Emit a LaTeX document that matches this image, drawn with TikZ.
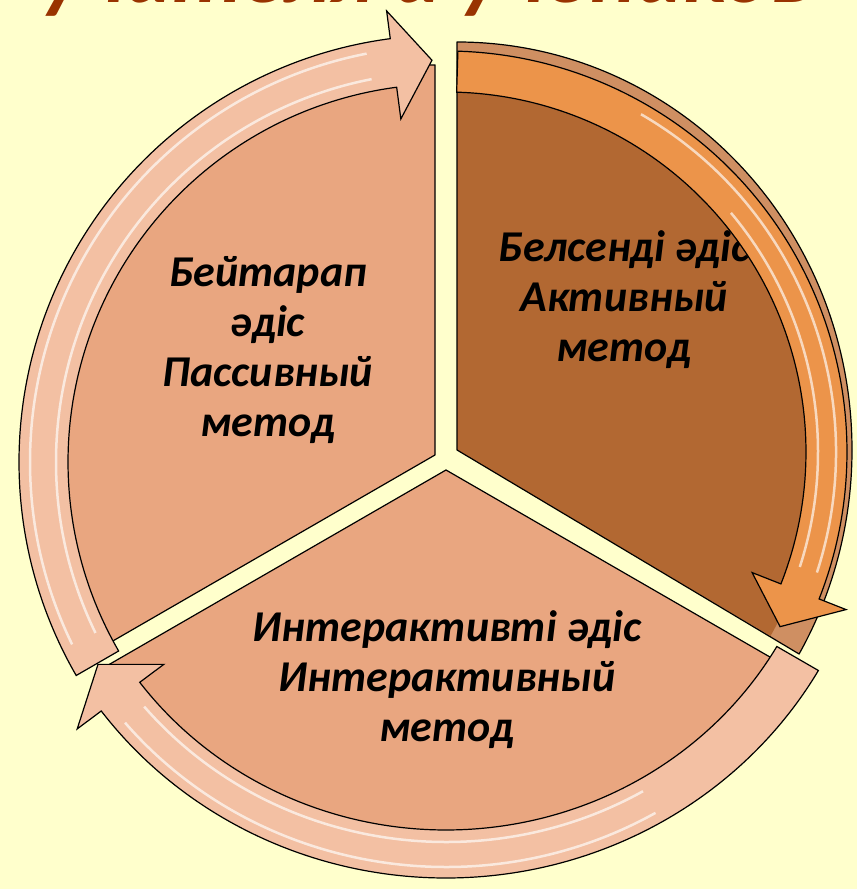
\documentclass[tikz,border=0pt]{standalone}
\usepackage{fontspec}
\setmainfont{Carlito}
\usepackage{tikz}
\usetikzlibrary{calc}
\definecolor{slidebg}   {RGB}{255,255,204}
\definecolor{titlered}  {RGB}{153, 51,  0}
\definecolor{segsalmon} {RGB}{233,166,128}
\definecolor{bandsalmon}{RGB}{243,192,163}
\definecolor{segbrown}  {RGB}{178,104, 50}
\definecolor{rimbrown}  {RGB}{207,143, 98}
\definecolor{bandorange}{RGB}{236,148, 74}

\begin{document}
\begin{tikzpicture}[
    x=1pt, y=1pt,
    segment/.style={draw=black, line width=1.2pt, line join=round},
    band/.style={draw=black, line width=1.2pt, line join=miter},
    gloss/.style={draw=white, line width=2.5pt, opacity=0.65},
    methodtext/.style={align=center, text=black, font=\bfseries\itshape\fontsize{44}{50}\selectfont}
]
    \useasboundingbox[fill=slidebg] (0,0) rectangle (857,889);
    \clip (0,0) rectangle (857,889);

    \node[anchor=base, text=titlered, font=\bfseries\itshape\fontsize{88}{90}\selectfont] (title) at (428,886) {учителя и учеников};

    % apexes of the three segments, centres of the three arrows
    \coordinate (pa) at (435,434);
    \coordinate (aa) at (457,439);
    \coordinate (ia) at (446,419);
    \coordinate (cl) at (446,427);
    \coordinate (cr) at (446,437);
    \coordinate (cb) at (446,426);

    % segments
    \draw[segment, fill=segsalmon] (pa) -- ++(90:390) arc[start angle=90, end angle=210, radius=390] -- cycle;
    \draw[segment, fill=segsalmon] (ia) -- ++(210:400) arc[start angle=210, end angle=330, radius=400] -- cycle;
    \fill[rimbrown] (aa) -- ++(90:408) arc[start angle=90, end angle=-30, x radius=395, y radius=408] -- cycle;
    \fill[segbrown] (aa) -- ++(90:372) arc[start angle=90, end angle=-30, x radius=362, y radius=372] -- cycle;
    \draw[segment] (aa) -- ++(90:408) arc[start angle=90, end angle=-30, x radius=395, y radius=408] -- cycle;

    \node[methodtext] (passive) at (268,539) {Бейтарап\\әдіс\\Пассивный\\метод};
    \node[methodtext] (active) at (624,589) {Белсенді әдіс\\Активный\\метод};
    \node[methodtext] (interactive) at (447,209) {Интерактивті әдіс\\Интерактивный\\метод};

    % arrows
    \draw[band, fill=bandsalmon]
        ($(cl)+(210:427)$) arc[start angle=210, end angle=97.5, radius=427]
        -- ($(cl)+(97.5:455)$) -- ($(cl)+(92:402)$) -- ($(cl)+(97.5:346)$)
        -- ($(cl)+(97.5:378)$) arc[start angle=97.5, end angle=210, radius=378] -- cycle;
    \draw[gloss] ($(cl)+(206:416)$) arc[start angle=206, end angle=101, radius=416];
    \draw[gloss] ($(cl)+(206:390)$) arc[start angle=206, end angle=101, radius=390];

    \draw[band, fill=bandorange]
        ($(cr)+(88.3:401)$) arc[start angle=88.3, end angle=-21.5, radius=401]
        -- ($(cr)+(-21.5:430)$) -- ($(cr)+(-27.6:377)$) -- ($(cr)+(-21.5:329)$)
        -- ($(cr)+(-21.5:360)$) arc[start angle=-21.5, end angle=88.3, radius=360] -- cycle;
    \draw[gloss] ($(cr)+(60:390)$) arc[start angle=60, end angle=-18, radius=390];
    \draw[gloss] ($(cr)+(40:372)$) arc[start angle=40, end angle=-18, radius=372];

    \draw[band, fill=bandsalmon]
        ($(cb)+(330:430 and 415)$) arc[start angle=330, end angle=216.7, x radius=430, y radius=415]
        -- ($(cb)+(216.7:460 and 445)$) -- ($(cb)+(211:406 and 391)$) -- ($(cb)+(216.7:352 and 337)$)
        -- ($(cb)+(216.7:382 and 367)$) arc[start angle=216.7, end angle=330, x radius=382, y radius=367] -- cycle;
    \draw[gloss] ($(cb)+(300:419 and 404)$) arc[start angle=300, end angle=220, x radius=419, y radius=404];
    \draw[gloss] ($(cb)+(300:394 and 379)$) arc[start angle=300, end angle=220, x radius=394, y radius=379];
\end{tikzpicture}
\end{document}
